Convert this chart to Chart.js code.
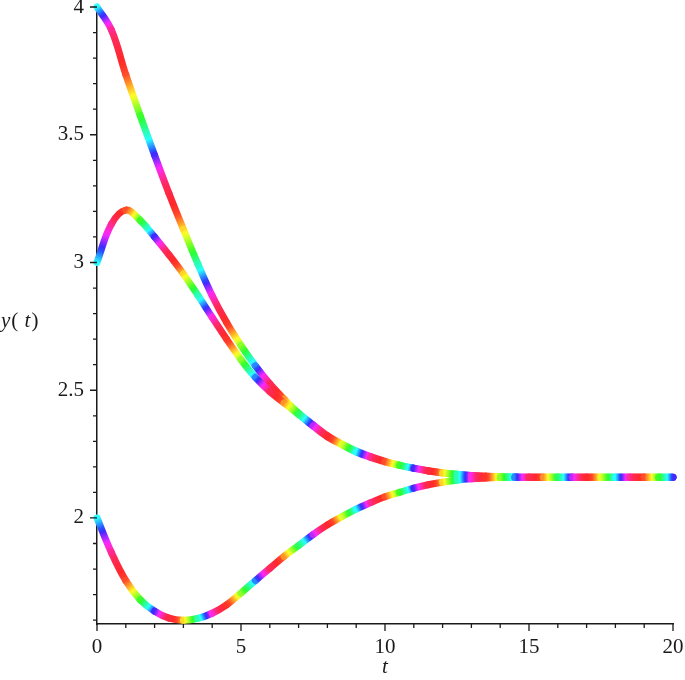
<!DOCTYPE html>
<html>
<head>
<meta charset="utf-8">
<script src="https://cdn.jsdelivr.net/npm/chart.js@4.4.0/dist/chart.umd.min.js"></script>
<style>
  html, body { margin: 0; padding: 0; background: #fff; }
  #wrap { width: 685px; height: 680px; }
</style>
</head>
<body>
<div id="wrap"><canvas id="c" width="685" height="680"></canvas></div>
<script>
// sample times (t)
const tValues = [0, 0.5, 1, 1.5, 2, 2.5, 3, 3.5, 4, 4.5, 5, 5.5, 6, 6.5, 7, 7.5, 8, 8.5, 9, 9.5,
  10, 10.5, 11, 11.5, 12, 12.5, 13, 13.5, 14, 14.5, 15, 15.5, 16, 16.5, 17, 17.5, 18, 18.5, 19, 19.5, 20];

// y(t), one list per initial value
const yFrom4 = [4.0, 3.91, 3.735, 3.575, 3.42, 3.27, 3.13, 2.995, 2.87, 2.765, 2.675, 2.595, 2.525, 2.465, 2.41,
  2.365, 2.322, 2.29, 2.262, 2.24, 2.222, 2.207, 2.195, 2.185, 2.177, 2.171, 2.166, 2.163, 2.161, 2.16,
  2.159, 2.159, 2.159, 2.159, 2.159, 2.159, 2.159, 2.159, 2.159, 2.159, 2.159];
const yFrom3 = [3.0, 3.15, 3.205, 3.165, 3.10, 3.03, 2.955, 2.872, 2.785, 2.70, 2.62, 2.55, 2.495, 2.45, 2.405,
  2.36, 2.318, 2.287, 2.258, 2.237, 2.22, 2.206, 2.194, 2.184, 2.176, 2.17, 2.166, 2.163, 2.161, 2.16,
  2.159, 2.159, 2.159, 2.159, 2.159, 2.159, 2.159, 2.159, 2.159, 2.159, 2.159];
const yFrom2 = [2.0, 1.865, 1.755, 1.68, 1.635, 1.608, 1.60, 1.607, 1.627, 1.66, 1.706, 1.755, 1.803, 1.85, 1.892,
  1.935, 1.973, 2.005, 2.035, 2.06, 2.083, 2.10, 2.117, 2.13, 2.14, 2.148, 2.153, 2.156, 2.158, 2.159,
  2.159, 2.159, 2.159, 2.159, 2.159, 2.159, 2.159, 2.159, 2.159, 2.159, 2.159];

const xTickLabels = [0, 5, 10, 15, 20];
const yTickLabels = [2, 2.5, 3, 3.5, 4];

const FONT = '"Liberation Serif", "DejaVu Serif", serif';
const INK = '#1a1a1a';

// hue cycle along t, with a longer stretch of red like the original
const hueKeys = [[0, 180], [0.1, 240], [0.2, 300], [0.32, 345], [0.55, 368], [0.7, 420], [0.85, 480], [1, 540]];
const PERIOD = 1.8;
function hueAt(t) {
  let p = (t / PERIOD) % 1;
  for (let i = 1; i < hueKeys.length; i++) {
    if (p <= hueKeys[i][0]) {
      const a = hueKeys[i - 1], b = hueKeys[i];
      const f = (p - a[0]) / (b[0] - a[0]);
      return (a[1] + f * (b[1] - a[1])) % 360;
    }
  }
  return 180;
}
function colourAt(t) {
  return 'hsl(' + hueAt(t).toFixed(1) + ',100%,58%)';
}

function segColour(ctx) {
  const g = ctx.chart.ctx;
  const p0 = ctx.p0, p1 = ctx.p1;
  const t0 = p0.parsed ? p0.parsed.x : tValues[ctx.p0DataIndex];
  const t1 = p1.parsed ? p1.parsed.x : tValues[ctx.p1DataIndex];
  const grad = g.createLinearGradient(p0.x, p0.y, p1.x, p1.y);
  const n = 10;
  for (let i = 0; i <= n; i++) {
    const f = i / n;
    grad.addColorStop(f, colourAt(t0 + f * (t1 - t0)));
  }
  return grad;
}

function toPoints(ys) {
  return tValues.map((t, i) => ({ x: t, y: ys[i] }));
}

function curve(ys) {
  return {
    data: toPoints(ys),
    showLine: true,
    borderWidth: 7,
    borderColor: '#ff4060',
    borderCapStyle: 'round',
    borderJoinStyle: 'round',
    tension: 0.4,
    pointRadius: 0,
    fill: false,
    clip: false,
    segment: { borderColor: segColour }
  };
}

// minor + major tick marks, and the y(t) label
const axisDecor = {
  id: 'axisDecor',
  afterDraw(chart) {
    const g = chart.ctx;
    const xs = chart.scales.x, ys = chart.scales.y;
    const area = chart.chartArea;
    g.save();
    g.strokeStyle = INK;
    g.lineWidth = 1.3;
    g.beginPath();
    for (let v = 0; v <= 20; v++) {
      const px = xs.getPixelForValue(v);
      const len = v % 5 === 0 ? 7 : 4;
      g.moveTo(px, area.bottom);
      g.lineTo(px, area.bottom + len);
    }
    for (let k = 16; k <= 40; k++) {
      const v = k / 10;
      const py = ys.getPixelForValue(v);
      const len = k % 5 === 0 ? 7 : 4;
      g.moveTo(area.left, py);
      g.lineTo(area.left - len, py);
    }
    g.stroke();

    // y(t)
    g.fillStyle = INK;
    g.textBaseline = 'alphabetic';
    let x = 1;
    const base = 327;
    const parts = [['italic', 'y'], ['normal', '('], ['italic', ' t'], ['normal', ')']];
    parts.forEach(([style, s]) => {
      g.font = style + ' 21px ' + FONT;
      g.fillText(s, x, base);
      x += g.measureText(s).width + 1;
    });
    g.restore();
  }
};

new Chart(document.getElementById('c'), {
  type: 'scatter',
  data: {
    datasets: [curve(yFrom2), curve(yFrom3), curve(yFrom4)]
  },
  options: {
    responsive: false,
    animation: false,
    layout: { padding: { top: 7, right: 12, left: 0, bottom: 0 } },
    plugins: { legend: { display: false }, tooltip: { enabled: false } },
    scales: {
      x: {
        type: 'linear',
        min: 0,
        max: 20,
        afterBuildTicks: s => { s.ticks = xTickLabels.map(v => ({ value: v })); },
        afterFit: s => { s.height = 56; s.paddingLeft = 0; s.paddingRight = 0; },
        grid: { display: false, drawTicks: false },
        border: { display: true, color: INK, width: 1.5 },
        ticks: { color: INK, font: { family: FONT, size: 21 }, padding: 11, maxRotation: 0 },
        title: { display: true, text: 't', color: INK, font: { family: FONT, size: 21, style: 'italic' }, padding: { top: 0, bottom: 0 } }
      },
      y: {
        type: 'linear',
        min: 1.585,
        max: 4,
        afterBuildTicks: s => { s.ticks = yTickLabels.map(v => ({ value: v })); },
        afterFit: s => { s.width = 97; s.paddingTop = 0; s.paddingBottom = 0; },
        grid: { display: false, drawTicks: false },
        border: { display: true, color: INK, width: 1.5 },
        ticks: { color: INK, font: { family: FONT, size: 21 }, padding: 13, callback: v => String(v) }
      }
    }
  },
  plugins: [axisDecor]
});
</script>
</body>
</html>
